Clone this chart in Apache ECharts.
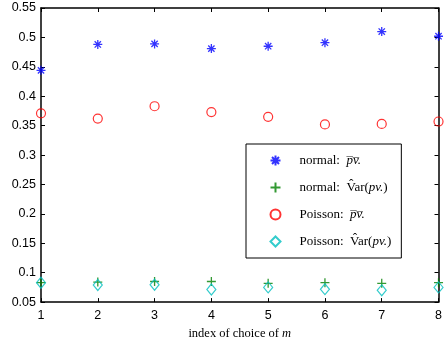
<!DOCTYPE html>
<html><head><meta charset="utf-8">
<script src="https://cdn.jsdelivr.net/npm/echarts@6/dist/echarts.min.js"></script>
<style>html,body{margin:0;padding:0;background:#fff}#c{width:445px;height:345px}</style>
</head><body><div id="c"></div>
<script>
const xIndex = [1, 2, 3, 4, 5, 6, 7, 8];
const normalMean = [0.444, 0.488, 0.489, 0.481, 0.485, 0.491, 0.510, 0.502];
const normalVar = [0.083, 0.084, 0.085, 0.085, 0.082, 0.083, 0.082, 0.083];
const poissonMean = [0.371, 0.362, 0.383, 0.373, 0.365, 0.352, 0.353, 0.357];
const poissonVar = [0.083, 0.079, 0.0795, 0.0715, 0.075, 0.072, 0.070, 0.075];
const yTicks = { min: 0.05, max: 0.55, step: 0.05 };

const OL = '\u0305', HAT = '\u0302';
const names = ['n1', 'n2', 'p1', 'p2'];
const legendText = {
  n1: 'normal:  {it|p' + OL + 'v' + OL + '.}',
  n2: 'normal:  V' + HAT + 'ar({it|pv.})',
  p1: 'Poisson:  {it|p' + OL + 'v' + OL + '.}',
  p2: 'Poisson:  V' + HAT + 'ar({it|pv.})'
};
const pair = a => a.map((v, i) => [xIndex[i], v]);
const star = 'path://M0 -10 L0 10 M-10 0 L10 0 M-7 -7 L7 7 M-7 7 L7 -7';
const plus = 'path://M0 -10 L0 10 M-10 0 L10 0';

const chart = echarts.init(document.getElementById('c'), null, { renderer: 'canvas' });
const axisLine = { show: true, lineStyle: { color: '#000', width: 1.5 } };
const tick = { show: true, inside: true, length: 4, lineStyle: { color: '#000' } };
chart.setOption({
  animation: false,
  grid: { left: 41, right: 5, top: 8, bottom: 41, containLabel: false },
  xAxis: [
    { type: 'value', min: 1, max: 8, interval: 1, axisLine, axisTick: tick, splitLine: { show: false },
      axisLabel: { color: '#000', fontFamily: 'Liberation Sans', fontSize: 12.5, margin: 7 },
      name: 'index of choice of {it|m}', nameLocation: 'middle', nameGap: 20,
      nameTextStyle: { color: '#000', fontFamily: 'Liberation Serif', fontSize: 12.5,
        rich: { it: { fontStyle: 'italic', fontFamily: 'Liberation Serif', fontSize: 12.5 } } } },
    { type: 'value', position: 'top', min: 1, max: 8, interval: 1, axisLine, axisTick: tick,
      axisLabel: { show: false }, splitLine: { show: false } }
  ],
  yAxis: [
    { type: 'value', min: yTicks.min, max: yTicks.max, interval: yTicks.step, axisLine, axisTick: tick,
      splitLine: { show: false },
      axisLabel: { color: '#000', fontFamily: 'Liberation Sans', fontSize: 12.5, margin: 5,
        formatter: v => String(Math.round(v * 100) / 100) } },
    { type: 'value', position: 'right', min: yTicks.min, max: yTicks.max, interval: yTicks.step,
      axisLine, axisTick: tick, axisLabel: { show: false }, splitLine: { show: false } }
  ],
  legend: {
    orient: 'vertical', left: 246, top: 144, data: names,
    backgroundColor: '#fff', borderColor: '#000', borderWidth: 1, borderRadius: 0,
    padding: [9, 10, 9, 22], itemGap: 12, itemWidth: 10, itemHeight: 10,
    formatter: n => legendText[n],
    textStyle: { color: '#000', fontFamily: 'Liberation Serif', fontSize: 13, padding: [0, 0, 0, 14],
      rich: { it: { fontStyle: 'italic', fontFamily: 'Liberation Serif', fontSize: 13 } } }
  },
  series: [
    { name: 'n1', type: 'scatter', data: pair(normalMean), symbol: star, symbolSize: 9, clip: false,
      itemStyle: { color: 'none', borderColor: '#0000ff', borderWidth: 1.3 } },
    { name: 'n2', type: 'scatter', data: pair(normalVar), symbol: plus, symbolSize: 9, clip: false,
      itemStyle: { color: 'none', borderColor: '#008000', borderWidth: 1.3 } },
    { name: 'p1', type: 'scatter', data: pair(poissonMean), symbol: 'circle', symbolSize: 9, clip: false,
      itemStyle: { color: 'none', borderColor: '#ff0000', borderWidth: 1.2 } },
    { name: 'p2', type: 'scatter', data: pair(poissonVar), symbol: 'diamond', symbolSize: [9, 11], clip: false,
      itemStyle: { color: 'none', borderColor: '#00bfbf', borderWidth: 1.2 } }
  ]
});
</script></body></html>
